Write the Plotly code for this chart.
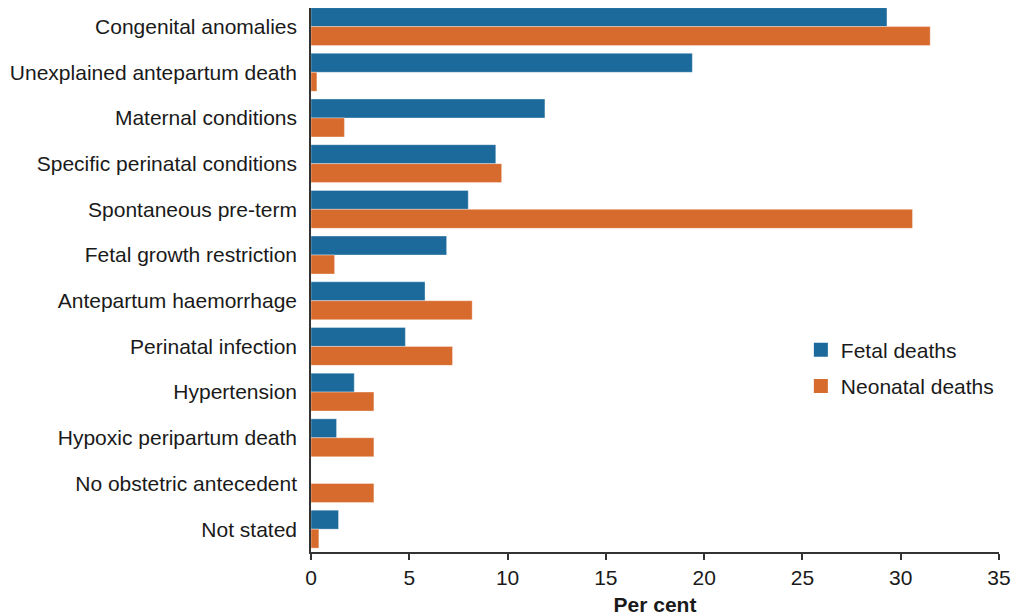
import plotly.graph_objects as go

categories = [
    "Congenital anomalies",
    "Unexplained antepartum death",
    "Maternal conditions",
    "Specific perinatal conditions",
    "Spontaneous pre-term",
    "Fetal growth restriction",
    "Antepartum haemorrhage",
    "Perinatal infection",
    "Hypertension",
    "Hypoxic peripartum death",
    "No obstetric antecedent",
    "Not stated",
]
fetal_deaths = [29.3, 19.4, 11.9, 9.4, 8.0, 6.9, 5.8, 4.8, 2.2, 1.3, 0.0, 1.4]
neonatal_deaths = [31.5, 0.3, 1.7, 9.7, 30.6, 1.2, 8.2, 7.2, 3.2, 3.2, 3.2, 0.4]
x_ticks = [0, 5, 10, 15, 20, 25, 30, 35]

FONT = "Liberation Sans, Arial, sans-serif"
FS = 21
TXT = "#1a1a1a"
BLUE = "#1B6A9B"
ORANGE = "#D76B2D"

fig = go.Figure()
fig.add_trace(go.Bar(
    y=categories, x=fetal_deaths, orientation="h", name="Fetal deaths",
    showlegend=False,
    marker=dict(color=BLUE, line=dict(color="rgba(255,255,255,0.35)", width=1)),
))
fig.add_trace(go.Bar(
    y=categories, x=neonatal_deaths, orientation="h", name="Neonatal deaths",
    showlegend=False,
    marker=dict(color=ORANGE, line=dict(color="rgba(255,255,255,0.35)", width=1)),
))
# legend entries with larger square swatches
fig.add_trace(go.Scatter(
    x=[None], y=[None], mode="markers", name="Fetal deaths", legendgroup="f",
    marker=dict(symbol="square", size=14, color=BLUE),
))
fig.add_trace(go.Scatter(
    x=[None], y=[None], mode="markers", name="Neonatal deaths", legendgroup="n",
    marker=dict(symbol="square", size=14, color=ORANGE),
))

fig.update_layout(
    width=1011, height=608,
    barmode="group", bargap=0.17, bargroupgap=0,
    plot_bgcolor="white", paper_bgcolor="white",
    margin=dict(l=303, r=20, t=0, b=64, autoexpand=False),
    font=dict(family=FONT, size=FS, color=TXT),
    legend=dict(
        x=0.712, y=0.409, xanchor="left", yanchor="top",
        font=dict(family=FONT, size=FS, color=TXT),
        bgcolor="rgba(0,0,0,0)", traceorder="grouped",
        tracegroupgap=6, itemsizing="trace",
    ),
    xaxis=dict(
        range=[0, 35], tickvals=x_ticks, showgrid=False, zeroline=False,
        showline=True, linecolor="#333333", linewidth=1.5,
        ticks="outside", ticklen=6, tickcolor="#333333", tickwidth=1.5,
        ticklabelstandoff=0, automargin=False,
        tickfont=dict(family=FONT, size=FS, color=TXT),
        title=dict(text="<b>Per cent</b>", font=dict(family=FONT, size=FS, color=TXT), standoff=14),
    ),
    yaxis=dict(
        type="category", categoryorder="array", categoryarray=categories,
        range=[11.5, -0.407], showgrid=False, zeroline=False,
        showline=True, linecolor="#333333", linewidth=1.5,
        ticks="", ticklabelstandoff=8, automargin=False,
        tickfont=dict(family=FONT, size=FS, color=TXT),
    ),
)

fig.write_html("out.html")
